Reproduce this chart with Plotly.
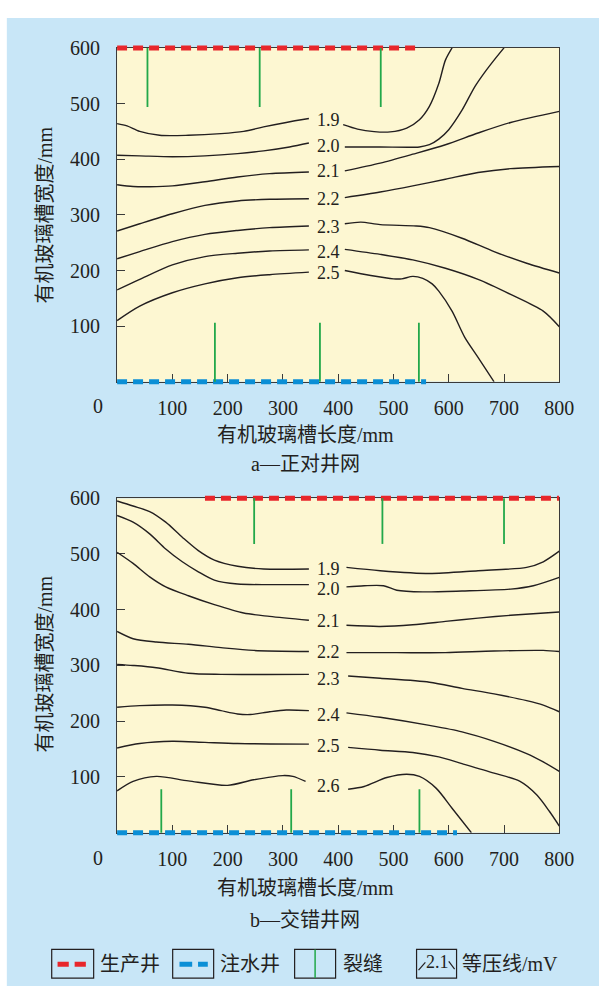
import plotly.graph_objects as go

# ---------------- data ----------------
x_tick_vals = [100, 200, 300, 400, 500, 600, 700, 800]
x_tick_text = ["100", "200", "300", "400", "500", "600", "700", "800"]
y_tick_vals = [100, 200, 300, 400, 500, 600]
y_tick_text = ["100", "200", "300", "400", "500", "600"]
origin_text = "0"

levels_a = ["1.9", "2.0", "2.1", "2.2", "2.3", "2.4", "2.5"]
label_x_a = [383, 383, 383, 383, 383, 383, 383]
label_y_a = [471, 423, 378, 329, 279, 234, 196]

levels_b = ["1.9", "2.0", "2.1", "2.2", "2.3", "2.4", "2.5", "2.6"]
label_x_b = [383, 383, 383, 383, 383, 383, 383, 383]
label_y_b = [473, 438, 379, 325, 275, 211, 155, 84]

# panel a isobars: left / right segments (x mm, y mm)
a19_left = [(0, 464), (18, 460), (41, 450), (77, 443), (129, 443), (188, 446), (229, 450), (265, 458), (306, 466), (347, 473)]
a19_right = [(409, 462), (435, 454), (465, 449.5), (494, 449), (524, 456), (547, 471), (565, 495), (582, 536), (594, 578), (606, 600)]
a20_left = [(0, 407), (41, 406), (100, 404.5), (159, 406), (218, 410), (265, 415), (312, 422), (347, 429)]
a20_right = [(412, 422), (476, 422), (547, 422), (565, 426), (582, 436), (600, 453), (624, 488), (647, 530), (665, 556), (682, 578), (700, 600)]
a21_left = [(0, 354), (29, 351), (59, 350.6), (100, 352), (159, 359.5), (218, 368), (276, 374), (347, 377)]
a21_right = [(412, 379), (476, 393), (535, 409), (594, 426), (653, 447), (712, 466), (800, 486)]
a22_left = [(0, 271), (41, 284), (100, 302), (159, 317), (218, 325), (276, 328), (347, 329)]
a22_right = [(412, 331), (476, 341), (535, 352), (594, 364), (653, 376), (712, 383), (800, 387)]
a23_left = [(0, 221), (41, 234), (100, 252), (159, 265), (218, 272), (276, 277), (347, 280)]
a23_right = [(412, 284), (441, 287), (476, 282.5), (541, 280), (565, 277), (624, 258), (682, 234), (741, 213), (800, 195.5)]
a24_left = [(0, 165), (41, 184), (100, 210), (159, 225), (218, 231), (276, 235), (347, 237)]
a24_right = [(412, 238), (476, 229), (535, 219), (594, 204), (653, 184), (712, 157), (771, 127), (800, 99)]
a25_left = [(0, 110), (41, 136), (100, 160), (159, 176), (218, 187), (276, 192.5), (347, 197)]
a25_right = [(412, 200), (459, 191), (500, 185), (515, 185), (535, 189.5), (553, 186), (570, 176), (582, 163), (606, 127), (629, 80), (653, 44), (682, 0)]

# panel b isobars
b19_left = [(0, 595), (29, 586), (59, 576), (88, 557), (118, 530), (147, 506), (176, 489), (218, 478), (265, 473), (347, 473)]
b19_right = [(415, 476), (476, 470), (565, 465), (653, 470), (741, 476), (771, 486), (800, 505)]
b20_left = [(0, 569), (29, 557), (59, 536), (88, 509), (118, 486), (147, 468), (176, 453), (218, 446), (276, 445), (347, 445)]
b20_right = [(415, 441), (447, 443), (482, 443), (506, 435), (553, 432), (624, 433.5), (712, 437), (753, 443), (800, 458)]
b21_left = [(0, 503), (29, 483), (59, 459), (88, 441), (129, 425), (176, 409), (229, 394), (276, 388), (347, 381)]
b21_right = [(415, 372), (476, 370), (535, 373), (594, 379), (653, 385), (712, 390), (800, 396)]
b22_left = [(0, 361), (29, 348), (71, 342), (129, 338), (188, 332), (247, 327), (347, 325)]
b22_right = [(415, 323), (506, 323), (594, 323), (682, 326), (771, 327), (800, 325)]
b23_left = [(0, 302), (29, 300), (71, 296), (129, 286), (188, 284), (347, 284)]
b23_right = [(418, 281), (476, 277), (565, 270), (624, 259), (682, 249), (741, 237), (771, 229), (800, 217)]
b24_left = [(0, 225), (41, 228), (100, 229), (159, 225), (188, 219), (218, 213), (241, 212), (276, 217), (306, 220), (347, 219)]
b24_right = [(415, 215), (476, 207), (565, 192.5), (624, 181), (682, 164), (741, 142), (771, 127), (800, 110)]
b25_left = [(0, 152), (41, 160), (100, 164), (159, 162), (218, 160), (347, 159)]
b25_right = [(418, 153), (476, 148), (535, 144), (582, 136), (624, 124), (682, 107), (729, 92), (759, 68), (782, 38.5), (800, 12)]
b26_left = [(0, 75), (29, 92), (71, 101), (129, 93), (200, 85), (247, 95), (300, 102.5), (318, 101), (341, 92)]
b26_right = [(418, 78), (447, 83), (488, 99), (524, 105), (547, 101), (577, 80), (606, 44), (641, 0)]

# wells (x extents, mm) and fractures (x positions, tips in mm)
a_prod_x = [0, 548]
a_inj_x = [0, 559]
b_prod_x = [159, 800]
b_inj_x = [0, 615]
well_prod_y = [600, 600]
well_inj_y = [0, 0]

a_frac_top_x = [55, 258, 477]
a_frac_top_tip = 494
a_frac_bot_x = [177, 367, 546]
a_frac_bot_tip = 106
b_frac_top_x = [248, 480, 700]
b_frac_top_tip = 518
b_frac_bot_x = [80, 315, 547]
b_frac_bot_tip = 78

legend_labels = ["生产井", "注水井", "裂缝", "等压线/mV"]
legend_sample_text = "2.1"

# ---------------- style / geometry ----------------
W, H = 614, 986
PX0, PX1 = 120.0, 573.3
A_TOP, A_BOT = 37.3, 375.0
B_TOP, B_BOT = 492.7, 831.0
PAD = 7.0

BG_BLUE = "#c8e6f7"
PLOT_YELLOW = "#fdf7d2"
RED = "#e8262b"
BLUE = "#0b8fd6"
GREEN = "#22a84a"
INK = "#231f20"
AXC = "#3a3a3a"
SERIF = "Liberation Serif, Times New Roman, Noto Sans CJK SC, serif"


def fx(px):
    return px / W


def fy(py):
    return 1 - py / H


fig = go.Figure()


def line_trace(pts_x, pts_y, xa, ya, color, width, dash=None, shape="spline"):
    fig.add_trace(go.Scatter(
        x=pts_x, y=pts_y, xaxis=xa, yaxis=ya, mode="lines",
        line=dict(color=color, width=width, dash=dash, shape=shape, smoothing=0.8),
        hoverinfo="skip", showlegend=False))


contours_a = [(a19_left, a19_right), (a20_left, a20_right), (a21_left, a21_right),
              (a22_left, a22_right), (a23_left, a23_right), (a24_left, a24_right),
              (a25_left, a25_right)]
contours_b = [(b19_left, b19_right), (b20_left, b20_right), (b21_left, b21_right),
              (b22_left, b22_right), (b23_left, b23_right), (b24_left, b24_right),
              (b25_left, b25_right), (b26_left, b26_right)]

for segs, xa, ya in [(contours_a, "x", "y"), (contours_b, "x2", "y2")]:
    for left, right in segs:
        for seg in (left, right):
            line_trace([p[0] for p in seg], [p[1] for p in seg], xa, ya, INK, 1.4)

# wells on overlay subplots (so the thick dashes are not clipped at the frame)
DASH = "10px,6px"
line_trace(a_prod_x, well_prod_y, "x3", "y3", RED, 5, DASH, "linear")
line_trace(a_inj_x, well_inj_y, "x3", "y3", BLUE, 5, DASH, "linear")
line_trace(b_prod_x, well_prod_y, "x4", "y4", RED, 5, DASH, "linear")
line_trace(b_inj_x, well_inj_y, "x4", "y4", BLUE, 5, DASH, "linear")

for xs, tip, base, xa, ya in [(a_frac_top_x, a_frac_top_tip, 600, "x3", "y3"),
                              (a_frac_bot_x, a_frac_bot_tip, 0, "x3", "y3"),
                              (b_frac_top_x, b_frac_top_tip, 600, "x4", "y4"),
                              (b_frac_bot_x, b_frac_bot_tip, 0, "x4", "y4")]:
    for xv in xs:
        line_trace([xv, xv], [base, tip], xa, ya, GREEN, 1.8, None, "linear")

annotations = []
for labs, lx, ly, xr, yr in [(levels_a, label_x_a, label_y_a, "x", "y"),
                              (levels_b, label_x_b, label_y_b, "x2", "y2")]:
    for t, xv, yv in zip(labs, lx, ly):
        annotations.append(dict(x=xv, y=yv, xref=xr, yref=yr, text=t, showarrow=False,
                                font=dict(family=SERIF, size=18, color=INK),
                                xanchor="center", yanchor="middle"))

tick_font = dict(family=SERIF, size=20, color=INK)

# origin "0" labels (shared corner label, placed left of the frame)
for oy in [399, 857]:
    annotations.append(dict(x=fx(100), y=fy(oy), xref="paper", yref="paper", text=origin_text,
                            showarrow=False, font=tick_font,
                            xanchor="center", yanchor="middle"))

title_font = dict(family=SERIF, size=20, color=INK)
for ty, sy, sub in [(429, 458, "a—正对井网"), (887, 919, "b—交错井网")]:
    annotations.append(dict(x=fx(313), y=fy(ty), xref="paper", yref="paper",
                            text="有机玻璃槽长度/mm", showarrow=False, font=title_font,
                            xanchor="center", yanchor="middle"))
    annotations.append(dict(x=fx(313), y=fy(sy), xref="paper", yref="paper",
                            text=sub, showarrow=False, font=title_font,
                            xanchor="center", yanchor="middle"))
for cy in [206, 660]:
    annotations.append(dict(x=fx(46), y=fy(cy), xref="paper", yref="paper",
                            text="有机玻璃槽宽度/mm", showarrow=False, font=title_font,
                            textangle=-90, xanchor="center", yanchor="middle"))

# legend
box_x = [(53, 96), (177, 219), (302, 344), (427, 468)]
text_cx = [133, 256, 372, 523]
LY0, LY1, LYC = 949, 978, 963.5
shapes = [
    dict(type="rect", xref="paper", yref="paper", x0=fx(7), x1=1, y0=0, y1=fy(7),
         fillcolor=BG_BLUE, line=dict(width=0), layer="below"),
    dict(type="rect", xref="x", yref="y", x0=0, x1=800, y0=0, y1=600,
         fillcolor=PLOT_YELLOW, line=dict(width=0), layer="below"),
    dict(type="rect", xref="x2", yref="y2", x0=0, x1=800, y0=0, y1=600,
         fillcolor=PLOT_YELLOW, line=dict(width=0), layer="below"),
]
for (bx0, bx1) in box_x:
    shapes.append(dict(type="rect", xref="paper", yref="paper", x0=fx(bx0), x1=fx(bx1),
                       y0=fy(LY1), y1=fy(LY0), line=dict(color=INK, width=1.2)))
for (d0, d1) in [(59, 70.5), (76.5, 88)]:
    shapes.append(dict(type="line", xref="paper", yref="paper", x0=fx(d0), x1=fx(d1),
                       y0=fy(964), y1=fy(964), line=dict(color=RED, width=5)))
for (d0, d1) in [(184, 197), (203, 213)]:
    shapes.append(dict(type="line", xref="paper", yref="paper", x0=fx(d0), x1=fx(d1),
                       y0=fy(964), y1=fy(964), line=dict(color=BLUE, width=5)))
shapes.append(dict(type="line", xref="paper", yref="paper", x0=fx(323), x1=fx(323),
                   y0=fy(LY1), y1=fy(LY0), line=dict(color=GREEN, width=1.5)))
shapes.append(dict(type="line", xref="paper", yref="paper", x0=fx(429), x1=fx(436),
                   y0=fy(970), y1=fy(962), line=dict(color=INK, width=1.2)))
shapes.append(dict(type="line", xref="paper", yref="paper", x0=fx(460), x1=fx(466),
                   y0=fy(961), y1=fy(969), line=dict(color=INK, width=1.2)))
annotations.append(dict(x=fx(448), y=fy(962), xref="paper", yref="paper",
                        text=legend_sample_text, showarrow=False,
                        font=dict(family=SERIF, size=18, color=INK),
                        xanchor="center", yanchor="middle"))
for t, cx in zip(legend_labels, text_cx):
    annotations.append(dict(x=fx(cx), y=fy(LYC), xref="paper", yref="paper", text=t,
                            showarrow=False, font=title_font,
                            xanchor="center", yanchor="middle"))

xaxis_common = dict(range=[0, 800], domain=[fx(PX0), fx(PX1)], showgrid=False, zeroline=False,
                    showline=True, mirror=True, linecolor=AXC, linewidth=1,
                    ticks="inside", ticklen=8, tickwidth=1, tickcolor=AXC,
                    tickvals=x_tick_vals, ticktext=x_tick_text, tickfont=tick_font,
                    ticklabelstandoff=8, layer="below traces", fixedrange=True)
yaxis_common = dict(range=[0, 600], showgrid=False, zeroline=False,
                    showline=True, mirror=True, linecolor=AXC, linewidth=1,
                    ticks="inside", ticklen=8, tickwidth=1, tickcolor=AXC,
                    tickvals=y_tick_vals, ticktext=y_tick_text, tickfont=tick_font,
                    ticklabelstandoff=12, layer="below traces", fixedrange=True)


def overlay_y(top, bot):
    s = (bot - top) / 600.0
    return dict(domain=[fy(bot + PAD), fy(top - PAD)], range=[-PAD / s, 600 + PAD / s],
                visible=False, fixedrange=True)


fig.update_layout(
    width=W, height=H, autosize=False,
    margin=dict(l=0, r=0, t=0, b=0),
    paper_bgcolor="white", plot_bgcolor="rgba(0,0,0,0)",
    showlegend=False,
    xaxis=dict(anchor="y", **xaxis_common),
    yaxis=dict(anchor="x", domain=[fy(A_BOT), fy(A_TOP)], **yaxis_common),
    xaxis2=dict(anchor="y2", **xaxis_common),
    yaxis2=dict(anchor="x2", domain=[fy(B_BOT), fy(B_TOP)], **yaxis_common),
    xaxis3=dict(anchor="y3", range=[0, 800], domain=[fx(PX0), fx(PX1)], visible=False, fixedrange=True),
    yaxis3=dict(anchor="x3", **overlay_y(A_TOP, A_BOT)),
    xaxis4=dict(anchor="y4", range=[0, 800], domain=[fx(PX0), fx(PX1)], visible=False, fixedrange=True),
    yaxis4=dict(anchor="x4", **overlay_y(B_TOP, B_BOT)),
    shapes=shapes,
    annotations=annotations,
)

fig.write_html("out.html", config={"displayModeBar": False, "staticPlot": True},
               post_script="document.body.style.margin='0';document.body.style.overflow='hidden';")
